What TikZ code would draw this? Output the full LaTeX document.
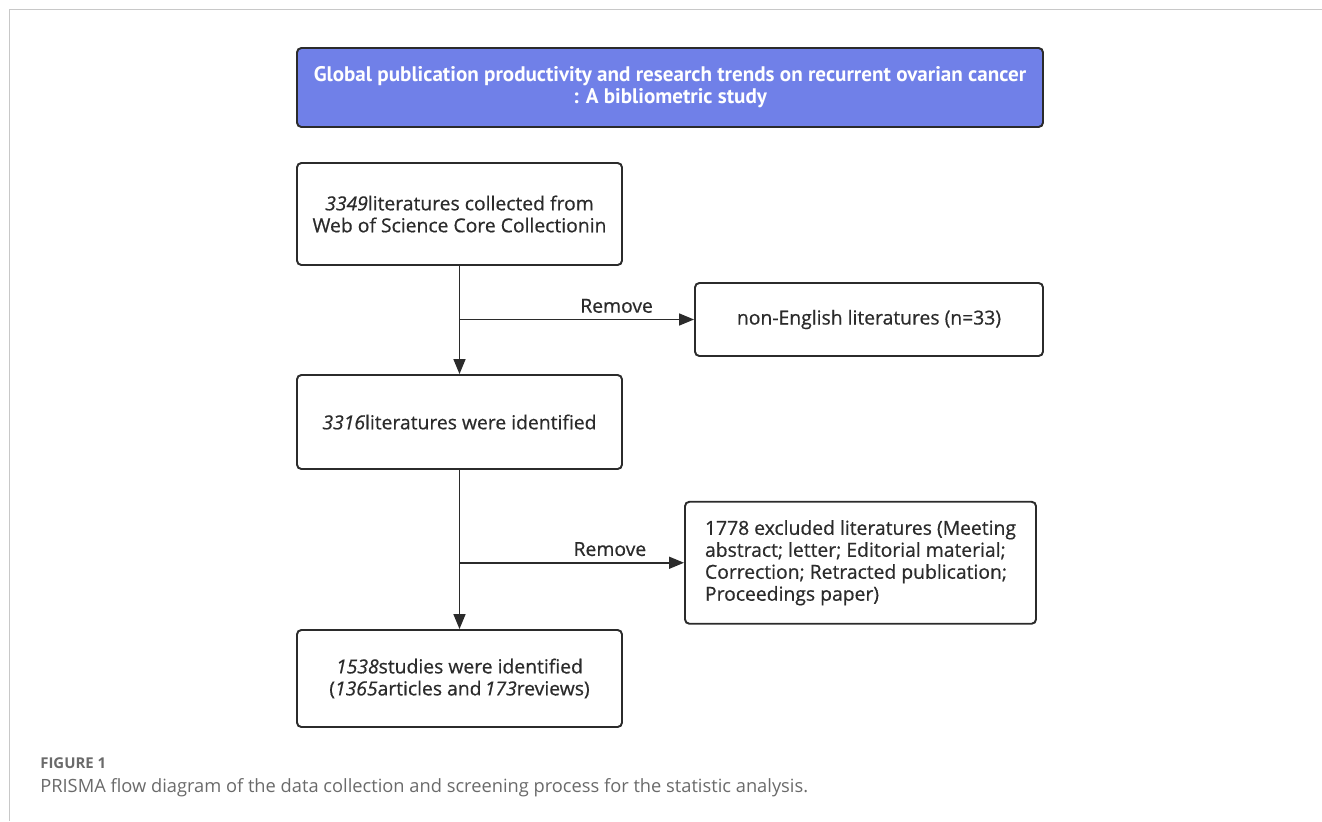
\documentclass[tikz,border=0pt]{standalone}
\usepackage{fontspec}
\setmainfont{Open Sans}
\newfontfamily\titlefont{PT Sans}
\newfontfamily\boxfont[FakeBold=0.6]{Open Sans}
\usetikzlibrary{positioning,calc,arrows.meta}
\definecolor{titleblue}{HTML}{7080E8}
\definecolor{boxline}{HTML}{2B2B2B}
\definecolor{framegray}{HTML}{C8C8C8}
\definecolor{capgray}{HTML}{6A6A6A}
\tikzset{
  box/.style={draw=boxline, line width=1.1pt, rounded corners=2.5pt, align=center,
    text=boxline, font=\boxfont\fontsize{11}{12.5}\selectfont},
  titlebox/.style={box, fill=titleblue, text=white, font=\titlefont\bfseries\fontsize{12}{12.5}\selectfont},
  flow/.style={draw=boxline, line width=0.9pt, -{Triangle[length=0.3cm,width=0.24cm]}},
  remove/.style={above, text=boxline, font=\boxfont\fontsize{11}{12}\selectfont, pos=0.67},
}

\begin{document}
\begin{tikzpicture}[node distance=2cm,on grid]
\useasboundingbox (0,0) rectangle (26.44,-16.42);
% page frame
\draw[framegray, line width=0.5pt] (26.44,-0.18) -- (0.18,-0.18) -- (0.18,-16.42);

% main column
\node[titlebox, minimum width=14.92cm, minimum height=1.58cm]	(title)	at (13.4,-1.75)		{Global publication productivity and research trends on recurrent ovarian cancer\\: A bibliometric study};
\node[box, minimum width=6.5cm, minimum height=2.04cm]		(start)	at (9.19,-4.28)		{\textit{3349}literatures collected from\\Web of Science Core Collectionin};
\node[box, minimum width=6.5cm, minimum height=1.88cm]		(ident)	[below=4.16 of start]	{\textit{3316}literatures were identified};
\node[box, minimum width=6.5cm, minimum height=1.94cm]		(final)	[below=5.13 of ident]	{\textit{1538}studies were identified\\(\textit{1365}articles and\,\textit{173}reviews)};

% excluded records
\coordinate (m1) at ($(start)!0.5!(ident)$);
\coordinate (m2) at ($(ident)!0.5!(final)$);
\node[box, minimum width=6.96cm, minimum height=1.46cm]		(lang)	at ($(m1)+(8.19,-0.03)$)	{non-English literatures (n=33)};
\node[box, minimum width=7.02cm, minimum height=2.44cm, align=left]	(types)	at ($(m2)+(8.02,-0.25)$)	{1778 excluded literatures (Meeting\\abstract; letter; Editorial material;\\Correction; Retracted publication;\\Proceedings paper)};

\path[flow] (start) -- (ident);
\path[flow] (ident) -- (final);
\path[flow] (start.south |- lang.west) -- node[remove] {Remove} (lang.west);
\path[flow] (ident.south |- types.west) -- node[remove] {Remove} (types.west);

% caption
\node[anchor=base west, text=capgray, font=\bfseries\fontsize{8.5}{10}\selectfont, inner sep=0pt]	(figno)	at (0.8,-15.36)	{FIGURE 1};
\node[anchor=base west, text=capgray, font=\fontsize{10.4}{12}\selectfont, inner sep=0pt]	(caption)	at (0.8,-15.84)	{PRISMA flow diagram of the data collection and screening process for the statistic analysis.};
\end{tikzpicture}
\end{document}
